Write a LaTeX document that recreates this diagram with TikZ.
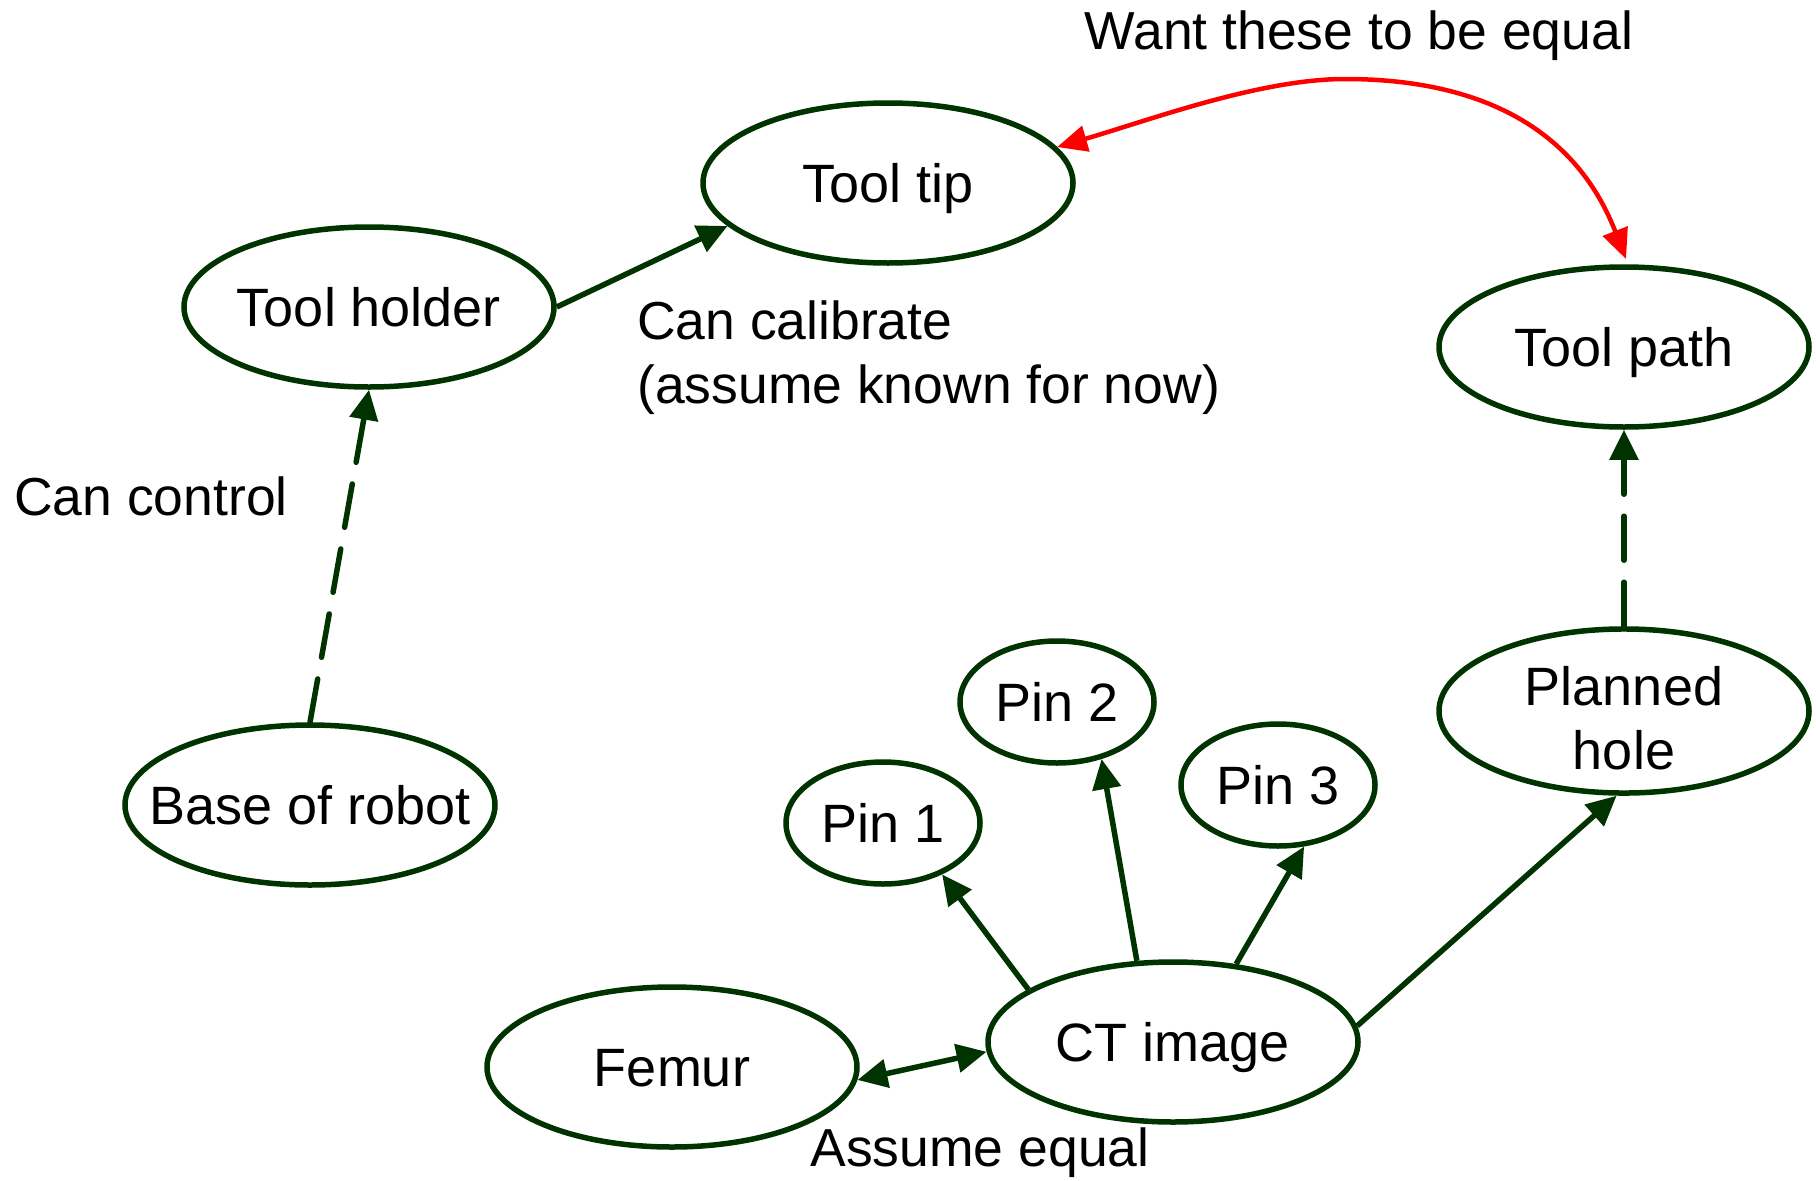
\documentclass[tikz,border=0pt]{standalone}
\usepackage{fontspec}
\setmainfont{Liberation Sans}
\usetikzlibrary{arrows.meta,shapes.geometric}
\definecolor{dkgreen}{RGB}{0,51,0}
\definecolor{eqred}{RGB}{255,0,0}
\tikzset{
  x=1pt, y=-1pt,
  every node/.style={font=\fontsize{54}{64}\selectfont, inner sep=0pt},
  state/.style={ellipse, draw=dkgreen, line width=5.5pt, align=center,
    inner xsep=-30pt, text height=39pt, text depth=0pt},
  bigstate/.style={state, minimum width=370pt, minimum height=160pt},
  pinstate/.style={state, minimum width=194pt, minimum height=122pt},
  rel/.style={draw=dkgreen, line width=5.5pt, -{Triangle[length=30pt,width=28pt]}},
  ctrl/.style={rel, line cap=round, dash pattern=on 44pt off 22pt},
  want/.style={draw=eqred, line width=4.5pt, {Triangle[length=30pt,width=26pt]}-{Triangle[length=30pt,width=26pt]}},
  lbl/.style={text=black, font=\fontsize{53.5}{64}\selectfont}
}
\begin{document}
\begin{tikzpicture}
\useasboundingbox (0,0) rectangle (1816,1181);

% states
\node[bigstate] (tt) at (888,183) {Tool tip};
\node[bigstate] (th) at (369,307) {Tool holder};
\node[bigstate] (tp) at (1624,347) {Tool path};
\node[bigstate] (base) at (310,805) {Base of robot};
\node[bigstate, text height=116pt, text depth=0pt] (ph) at (1624,711) {Planned\\hole};
\node[bigstate] (femur) at (672,1067) {Femur};
\node[bigstate] (ct) at (1173,1042) {CT image};
\node[pinstate] (p1) at (883,823) {Pin 1};
\node[pinstate] (p2) at (1057,702) {Pin 2};
\node[pinstate] (p3) at (1278,785) {Pin 3};

% relations
\draw[ctrl] (base.north) -- (th.south);
\draw[rel] (th.east) -- (tt.195);
\draw[ctrl] (ph.north) -- (tp.south);
\draw[rel] (ct.160) -- (p1.-41);
\draw[rel] (ct.114) -- (p2.-52);
\draw[rel] (ct.51) -- (p3.-67);
\draw[rel] (ct.5) -- (ph.-95);
\draw[rel, {Triangle[length=30pt,width=28pt]}-{Triangle[length=30pt,width=28pt]}] (femur.-4) -- (ct.-177);

% the pair that should coincide
\coordinate (tpin) at (1626,259);
\draw[want] (tt.12) .. controls (1150,120) and (1260,79) .. (1345,79)
  .. controls (1460,79) and (1570,115) .. (tpin);

% annotations
\node[lbl] (weq) at (1359,36) {Want these to be equal};
\node[lbl, anchor=west, align=left] (cal) at (637,358) {Can calibrate\\(assume known for now)};
\node[lbl, anchor=west] (cc) at (14,496) {Can control};
\node[lbl] (aeq) at (980,1153) {Assume equal};
\end{tikzpicture}
\end{document}
